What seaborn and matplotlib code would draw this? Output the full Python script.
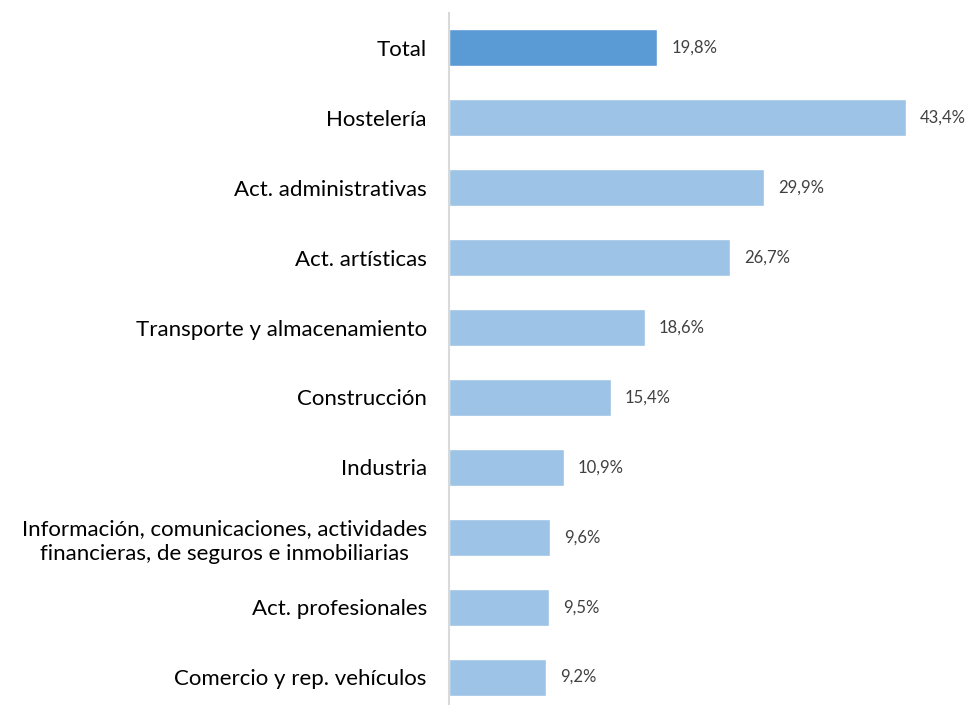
import matplotlib
matplotlib.use("Agg")
import matplotlib.pyplot as plt
import seaborn as sns
import pandas as pd

# Datos del gráfico
categorias = [
    "Total",
    "Hostelería",
    "Act. administrativas",
    "Act. artísticas",
    "Transporte y almacenamiento",
    "Construcción",
    "Industria",
    "Información, comunicaciones, actividades\nfinancieras, de seguros e inmobiliarias",
    "Act. profesionales",
    "Comercio y rep. vehículos",
]
valores = [19.8, 43.4, 29.9, 26.7, 18.6, 15.4, 10.9, 9.6, 9.5, 9.2]
grupo = ["total"] + ["sector"] * (len(categorias) - 1)

df = pd.DataFrame({"categoria": categorias, "valor": valores, "grupo": grupo})

sns.set_style("white")
plt.rcParams["font.family"] = ["Lato", "DejaVu Sans"]

fig = plt.figure(figsize=(9.67, 7.05), dpi=100)
ax = fig.add_axes([449 / 967, -7 / 705, 518 / 967, 699 / 705])

sns.barplot(
    data=df, x="valor", y="categoria", hue="grupo", orient="h",
    palette={"total": "#5B9BD5", "sector": "#9DC3E6"},
    width=0.53, dodge=False, legend=False, saturation=1, ax=ax,
)

for i, v in enumerate(valores):
    ax.annotate(f"{v:.1f}%".replace(".", ","), (v, i), xytext=(10, 0),
                textcoords="offset points", va="center", ha="left",
                fontsize=12, color="#404040")

ax.set_xlim(0, 518 / 10.53)
ax.set_ylim(len(categorias) - 0.5, -0.5)
ax.set_xlabel("")
ax.set_ylabel("")
ax.set_xticks([])
ax.tick_params(axis="y", length=0, pad=16, labelsize=16, labelcolor="#000000")
for lbl in ax.get_yticklabels():
    lbl.set_horizontalalignment("right")
    lbl.set_multialignment("center")
    lbl.set_linespacing(1.3)

for side in ["top", "right", "bottom"]:
    ax.spines[side].set_visible(False)
ax.spines["left"].set_color("#D9D9D9")
ax.spines["left"].set_linewidth(1.5)

fig.savefig("out.png", dpi=100, facecolor="white")
